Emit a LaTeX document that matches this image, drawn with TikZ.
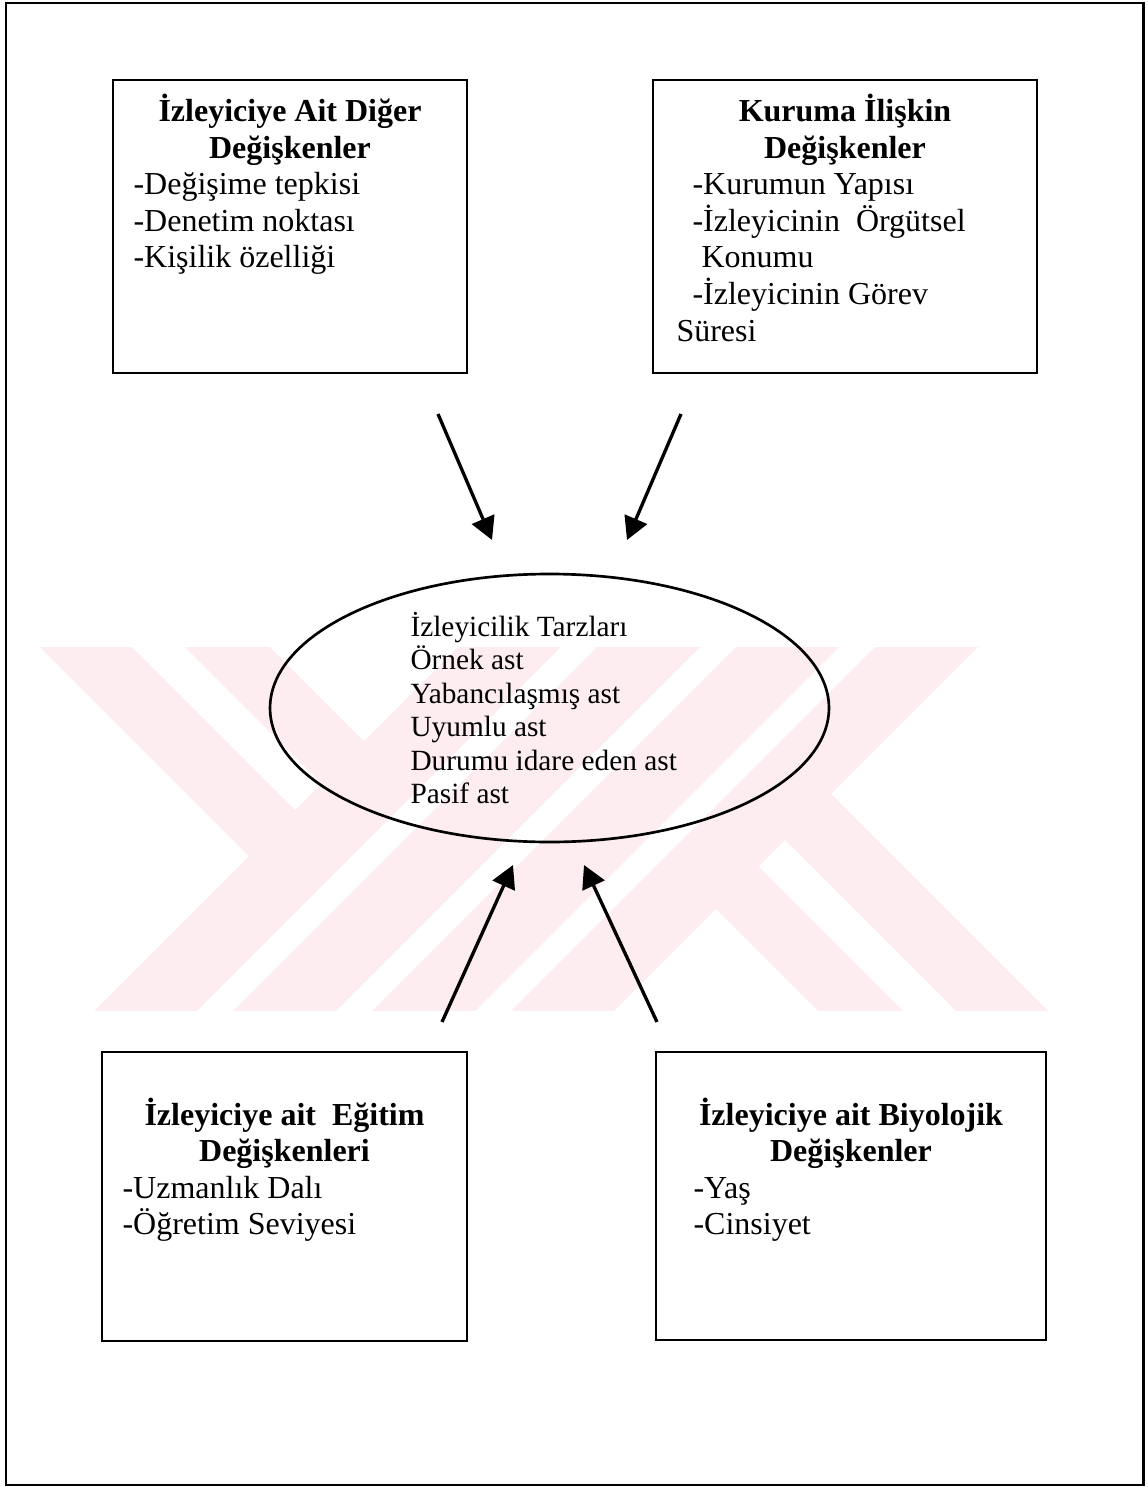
\documentclass[tikz,border=0pt]{standalone}
\usepackage{fontspec}
\setmainfont{Liberation Serif}
\usetikzlibrary{shapes.geometric,arrows.meta}
\definecolor{wmpink}{RGB}{253,237,240}
\begin{document}
\begin{tikzpicture}[x=0.375pt,y=-0.375pt,
  boxst/.style={draw,rectangle,line width=1pt,inner sep=0pt},
  txt/.style={anchor=base west,inner sep=0pt,font=\fontsize{12}{14}\selectfont},
  head/.style={anchor=base,inner sep=0pt,font=\bfseries\fontsize{12}{14}\selectfont},
  etxt/.style={anchor=base west,inner sep=0pt,font=\fontsize{11}{13}\selectfont},
  arr/.style={line width=1.25pt,-{Triangle[length=8.5pt,width=9pt]}},
  wm/.style={fill=wmpink,draw=none}]
\useasboundingbox (0,0) rectangle (1147,1487);
% watermark
\begin{scope}
  \clip (0,647) rectangle (1147,1010);
  \foreach \a in {1105,1244,1383,1522}
    \fill[wm] ({\a-600},600) -- ({\a+103-600},600) -- ({\a+103-1060},1060) -- ({\a-1060},1060) -- cycle;
  \fill[wm] (-7,600) -- (85,600) -- (297.5,812.5) -- (251.5,858.5) -- cycle;
  \fill[wm] (138,600) -- (223,600) -- (366.5,743.5) -- (324,786) -- cycle;
  \fill[wm] (828.5,791.5) -- (782.5,837.5) -- (1005,1060) -- (1097,1060) -- cycle;
  \fill[wm] (756,864) -- (713.5,906.5) -- (867,1060) -- (952,1060) -- cycle;
\end{scope}
% frame
\node[draw,line width=1.1pt,minimum width=426.4pt,minimum height=555.75pt,inner sep=0pt] (frame) at (574.5,744) {};
% boxes
\node[boxst,minimum width=132.75pt,minimum height=109.9pt] (tl) at (290,226.5) {};
\node[boxst,minimum width=144pt,minimum height=109.9pt] (tr) at (845,226.5) {};
\node[boxst,minimum width=136.9pt,minimum height=108.4pt] (bl) at (284.5,1196.5) {};
\node[boxst,minimum width=146.25pt,minimum height=108pt] (br) at (851,1196) {};
% top left text
\node[head] (tlh1) at (290,122) {İzleyiciye Ait Diğer};
\node[head] (tlh2) at (290,158.5) {Değişkenler};
\node[txt] (tlt1) at (133,195) {-Değişime tepkisi};
\node[txt] (tlt2) at (133,231.5) {-Denetim noktası};
\node[txt] (tlt3) at (133,268) {-Kişilik özelliği};
% top right text
\node[head] (trh1) at (845,122) {Kuruma İlişkin};
\node[head] (trh2) at (845,158.5) {Değişkenler};
\node[txt] (trt1) at (692,195) {-Kurumun Yapısı};
\node[txt] (trt2) at (692,231.5) {-İzleyicinin\ \ Örgütsel};
\node[txt] (trt3) at (701,268) {Konumu};
\node[txt] (trt4) at (692,304.5) {-İzleyicinin Görev};
\node[txt] (trt5) at (676,341) {Süresi};
% bottom left text
\node[head] (blh1) at (284.5,1125) {İzleyiciye ait\ \ Eğitim};
\node[head] (blh2) at (284.5,1161.5) {Değişkenleri};
\node[txt] (blt1) at (122,1198) {-Uzmanlık Dalı};
\node[txt] (blt2) at (122,1234.5) {-Öğretim Seviyesi};
% bottom right text
\node[head] (brh1) at (851,1125) {İzleyiciye ait Biyolojik};
\node[head] (brh2) at (851,1161.5) {Değişkenler};
\node[txt] (brt1) at (693,1198) {-Yaş};
\node[txt] (brt2) at (693,1234.5) {-Cinsiyet};
% ellipse
\node[draw,ellipse,line width=1pt,minimum width=209.6pt,minimum height=100.5pt,inner sep=0pt] (styles) at (549.5,708) {};
\node[etxt] (e1) at (410,636) {İzleyicilik Tarzları};
\node[etxt] (e2) at (410,669.5) {Örnek ast};
\node[etxt] (e3) at (410,703) {Yabancılaşmış ast};
\node[etxt] (e4) at (410,736.5) {Uyumlu ast};
\node[etxt] (e5) at (410,770) {Durumu idare eden ast};
\node[etxt] (e6) at (410,803.5) {Pasif ast};
% arrows
\coordinate (a1s) at (438,414); \coordinate (a1e) at (492,540);
\coordinate (a2s) at (681,414); \coordinate (a2e) at (627,540);
\coordinate (a3s) at (442,1022); \coordinate (a3e) at (513,865);
\coordinate (a4s) at (657,1022); \coordinate (a4e) at (584,865);
\draw[arr] (a1s) -- (a1e);
\draw[arr] (a2s) -- (a2e);
\draw[arr] (a3s) -- (a3e);
\draw[arr] (a4s) -- (a4e);
\end{tikzpicture}
\end{document}
